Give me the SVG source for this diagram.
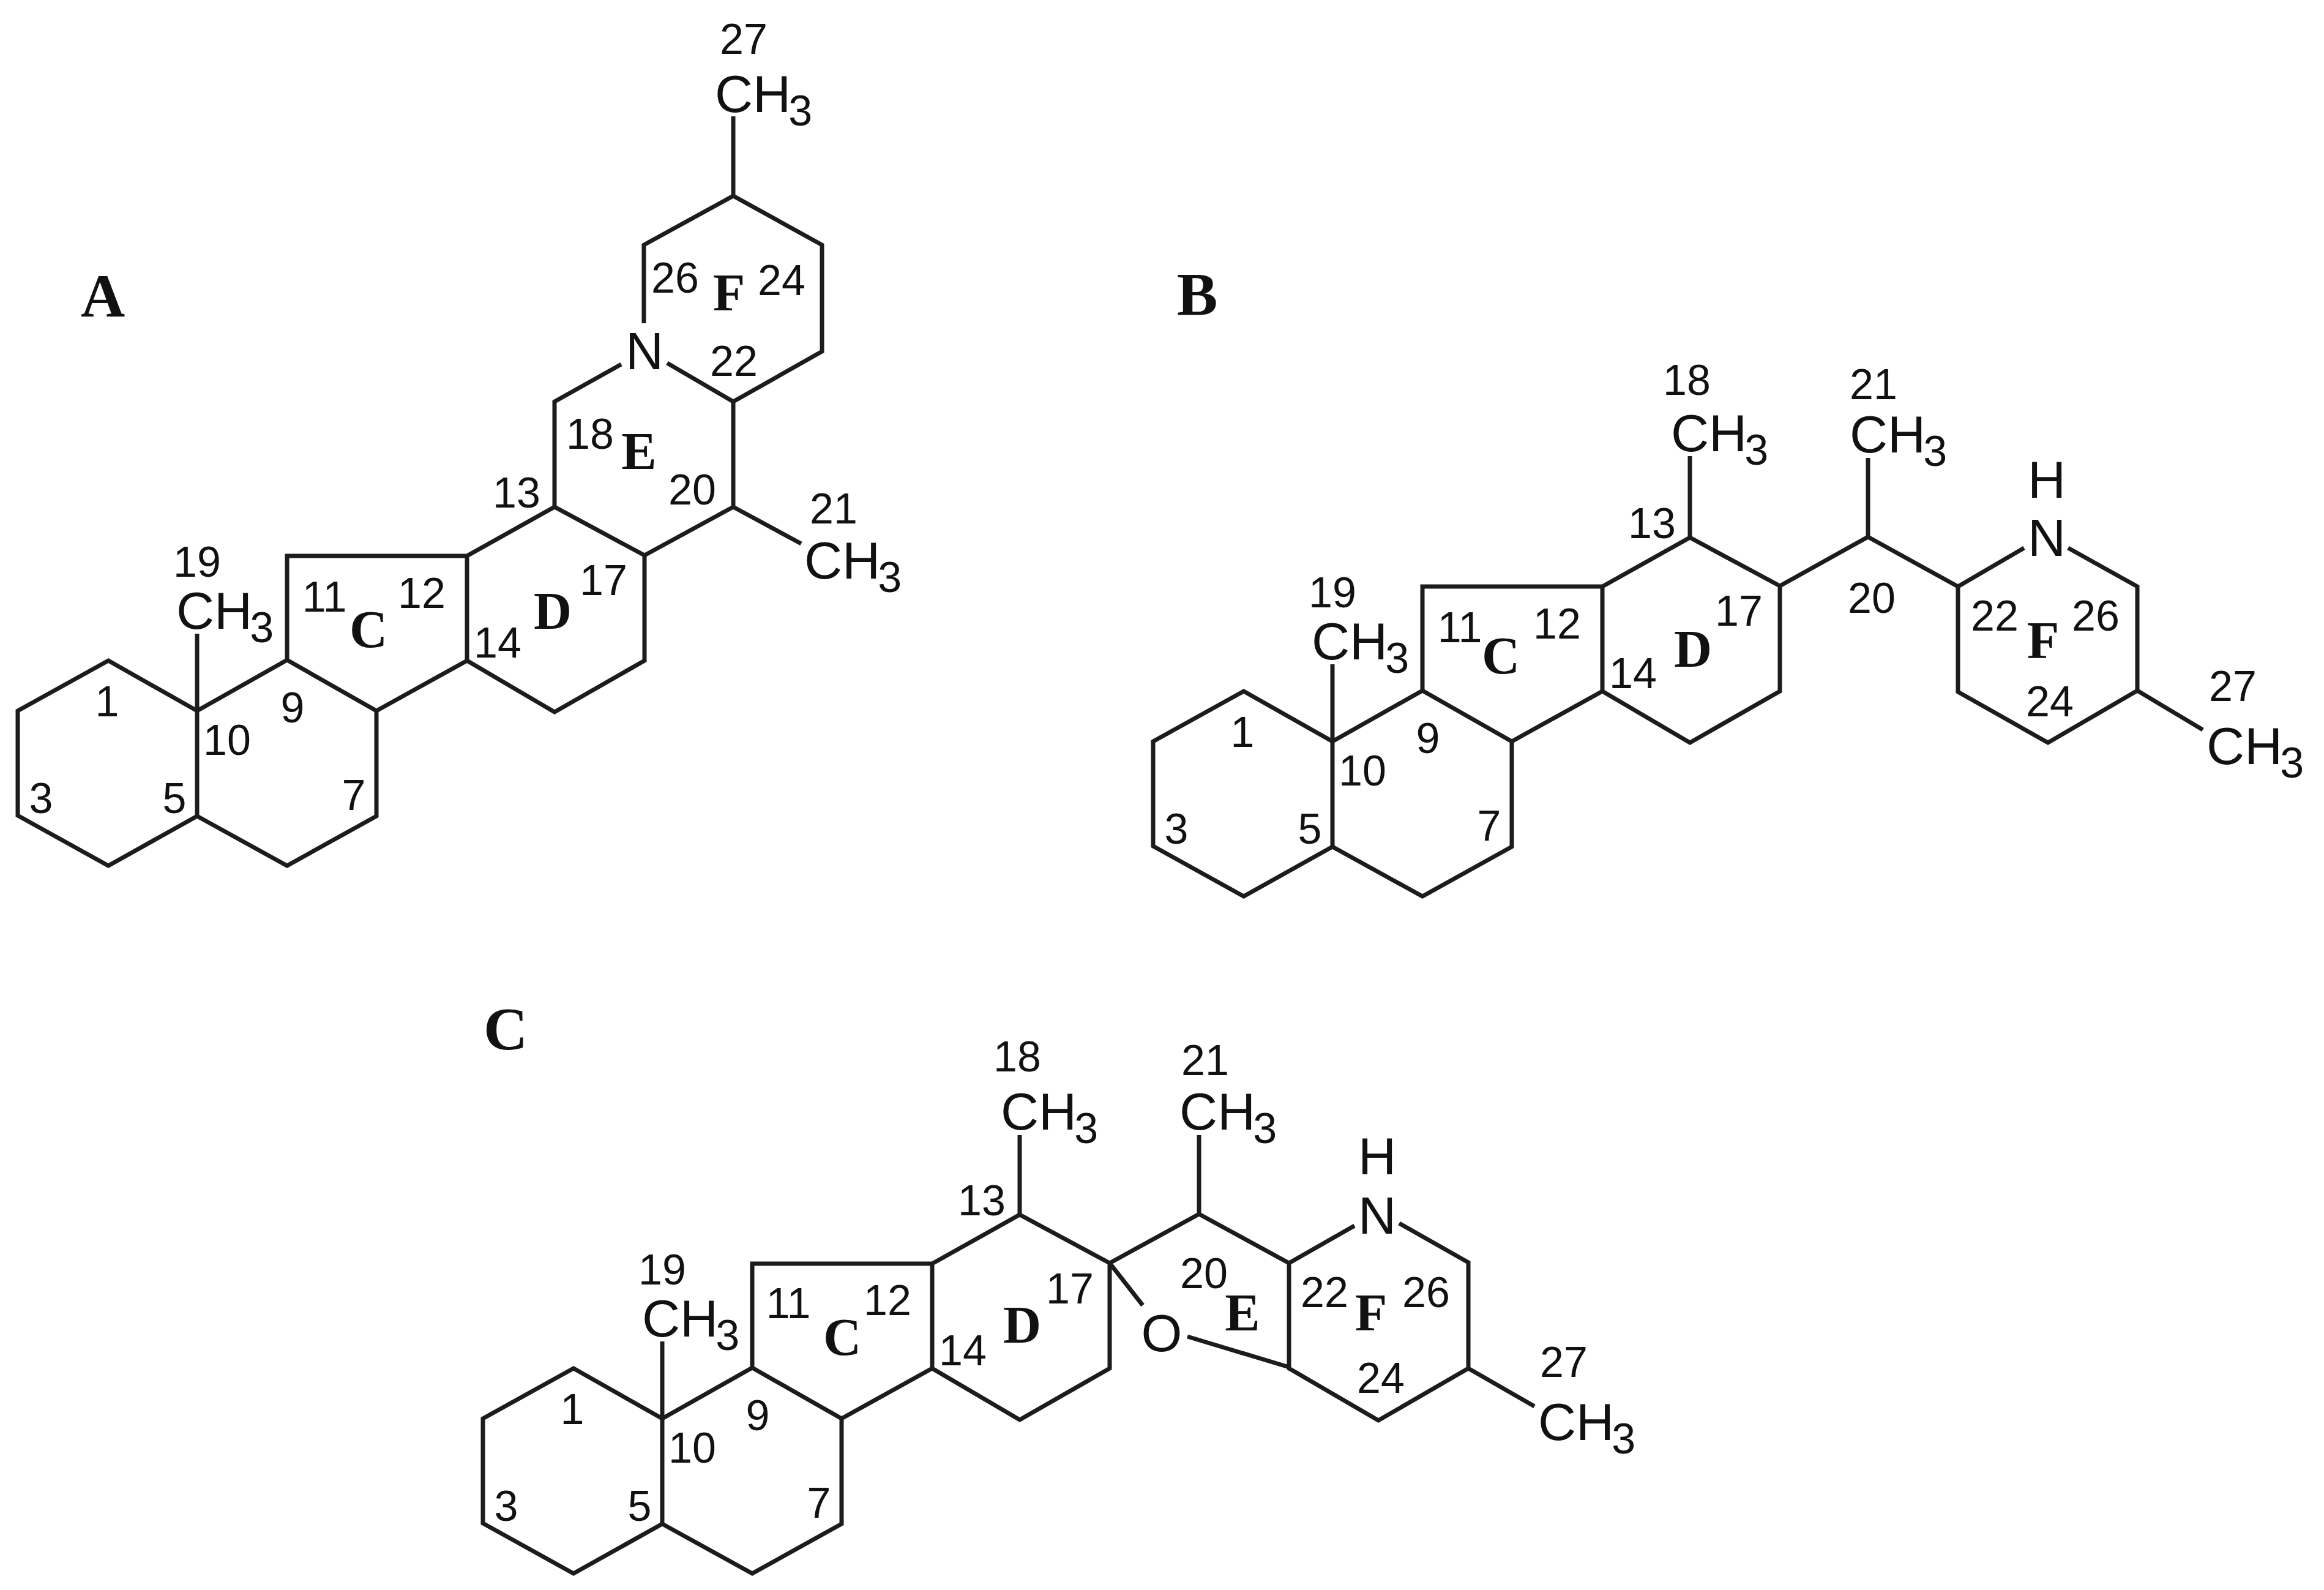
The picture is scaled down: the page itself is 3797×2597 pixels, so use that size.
<svg xmlns="http://www.w3.org/2000/svg" xmlns:xlink="http://www.w3.org/1999/xlink" width="3797" height="2597" viewBox="0 0 3797 2597">
<style>
.b{fill:none;stroke:#1c1c1c;stroke-width:7;stroke-linejoin:miter;stroke-linecap:butt}
text{fill:#111;font-family:"Liberation Sans",Arial,sans-serif}
.n{font-size:70px;text-anchor:middle}
.a{font-size:86px}
.a tspan{font-size:70px}
.at{font-size:86px;text-anchor:middle}
.r{font-family:"Liberation Serif","Times New Roman",serif;font-weight:bold;font-size:86px;text-anchor:middle}
.p{font-family:"Liberation Serif","Times New Roman",serif;font-weight:bold;font-size:100px;text-anchor:middle}
</style>
<defs>
<path id="skeleton" class="b" d="M177 1079L29 1161V1332L177 1414L322 1333V1161ZM322 1161L469 1078L615 1161V1333L469 1414L322 1333M469 1078V908H763V1079L615 1161M763 908L906 828L1053 907V1079L906 1163L763 1079M322 1161V1035"/>
</defs>
<rect width="3797" height="2597" fill="#fff"/>

<g id="molecule-A">
<g id="bonds-A">
<use href="#skeleton"/>
<path class="b" d="M906 828V656L1015 595M1090 593L1198 656V828L1053 907M1198 656L1343 574V400L1198 320L1052 400V528M1198 320V190M1198 828L1309 888"/>
</g>
<g id="labels-A">
<text class="p" x="168" y="517">A</text>
<text class="a" x="288" y="1027">CH<tspan dx="-4" dy="22">3</tspan></text>
<text class="a" x="1168" y="183">CH<tspan dx="-4" dy="22">3</tspan></text>
<text class="a" x="1314" y="945">CH<tspan dx="-4" dy="22">3</tspan></text>
<text class="at" x="1053" y="603">N</text>
<text class="r" x="602" y="1057">C</text><text class="r" x="903" y="1027">D</text><text class="r" x="1044" y="766">E</text><text class="r" x="1191" y="507">F</text>
<text class="n" x="175" y="1170">1</text><text class="n" x="67" y="1328">3</text><text class="n" x="285" y="1328">5</text><text class="n" x="578" y="1323">7</text><text class="n" x="478" y="1180">9</text><text class="n" x="371" y="1233">10</text>
<text class="n" x="530" y="999">11</text><text class="n" x="689" y="993">12</text><text class="n" x="844" y="829">13</text><text class="n" x="813" y="1074">14</text><text class="n" x="986" y="972">17</text><text class="n" x="964" y="733">18</text><text class="n" x="322" y="942">19</text><text class="n" x="1131" y="824">20</text><text class="n" x="1362" y="855">21</text><text class="n" x="1199" y="614">22</text><text class="n" x="1277" y="482">24</text><text class="n" x="1103" y="478">26</text><text class="n" x="1215" y="88">27</text>
</g>
</g>

<g id="molecule-B">
<g id="bonds-B">
<use href="#skeleton" x="1855" y="50"/>
<path class="b" d="M2761 878V745M2908 957L3052 877V748M3052 877L3199 958L3307 895M3199 958V1130L3346 1213L3492 1128V958L3379 895M3492 1128L3599 1192"/>
</g>
<g id="labels-B">
<text class="p" x="1956" y="514">B</text>
<text class="a" x="2143" y="1077">CH<tspan dx="-4" dy="22">3</tspan></text>
<text class="a" x="2730" y="737">CH<tspan dx="-4" dy="22">3</tspan></text>
<text class="a" x="3022" y="739">CH<tspan dx="-4" dy="22">3</tspan></text>
<text class="a" x="3605" y="1248">CH<tspan dx="-4" dy="22">3</tspan></text>
<text class="at" x="3344" y="908">N</text><text class="at" x="3344" y="813">H</text>
<text class="r" x="2452" y="1100">C</text><text class="r" x="2766" y="1089">D</text><text class="r" x="3338" y="1075">F</text>
<text class="n" x="2030" y="1220">1</text><text class="n" x="1922" y="1378">3</text><text class="n" x="2140" y="1378">5</text><text class="n" x="2433" y="1373">7</text><text class="n" x="2333" y="1230">9</text><text class="n" x="2226" y="1283">10</text>
<text class="n" x="2385" y="1049">11</text><text class="n" x="2544" y="1043">12</text><text class="n" x="2699" y="879">13</text><text class="n" x="2668" y="1124">14</text><text class="n" x="2841" y="1022">17</text><text class="n" x="2756" y="645">18</text><text class="n" x="2177" y="992">19</text><text class="n" x="3058" y="1001">20</text><text class="n" x="3061" y="652">21</text><text class="n" x="3259" y="1030">22</text><text class="n" x="3349" y="1170">24</text><text class="n" x="3424" y="1030">26</text><text class="n" x="3648" y="1145">27</text>
</g>
</g>

<g id="molecule-C">
<g id="bonds-C">
<use href="#skeleton" x="760" y="1156"/>
<path class="b" d="M1666 1984V1854M1813 2063L1959 1983V1854M1959 1983L2106 2063L2213 2002M2106 2063V2235L2252 2320L2399 2235V2062L2286 1998M2399 2235L2507 2297M1813 2063L1867 2132M1940 2183L2106 2233"/>
</g>
<g id="labels-C">
<text class="p" x="826" y="1714">C</text>
<text class="a" x="1049" y="2183">CH<tspan dx="-4" dy="22">3</tspan></text>
<text class="a" x="1635" y="1845">CH<tspan dx="-4" dy="22">3</tspan></text>
<text class="a" x="1927" y="1845">CH<tspan dx="-4" dy="22">3</tspan></text>
<text class="a" x="2513" y="2352">CH<tspan dx="-4" dy="22">3</tspan></text>
<text class="at" x="2250" y="2015">N</text><text class="at" x="2250" y="1918">H</text><text class="at" x="1898" y="2207">O</text>
<text class="r" x="1376" y="2213">C</text><text class="r" x="1670" y="2193">D</text><text class="r" x="2030" y="2173">E</text><text class="r" x="2240" y="2173">F</text>
<text class="n" x="935" y="2326">1</text><text class="n" x="827" y="2484">3</text><text class="n" x="1045" y="2484">5</text><text class="n" x="1338" y="2479">7</text><text class="n" x="1238" y="2336">9</text><text class="n" x="1131" y="2389">10</text>
<text class="n" x="1288" y="2153">11</text><text class="n" x="1450" y="2148">12</text><text class="n" x="1604" y="1985">13</text><text class="n" x="1573" y="2230">14</text><text class="n" x="1748" y="2129">17</text><text class="n" x="1662" y="1750">18</text><text class="n" x="1082" y="2098">19</text><text class="n" x="1967" y="2104">20</text><text class="n" x="1969" y="1756">21</text><text class="n" x="2164" y="2135">22</text><text class="n" x="2256" y="2275">24</text><text class="n" x="2330" y="2135">26</text><text class="n" x="2555" y="2249">27</text>
</g>
</g>
</svg>
